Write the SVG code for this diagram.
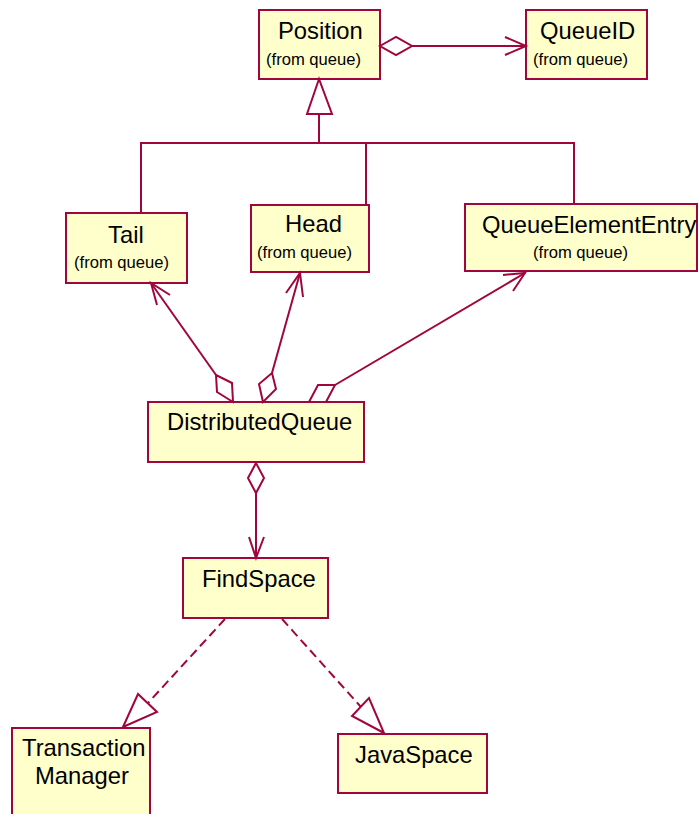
<svg xmlns="http://www.w3.org/2000/svg" width="699" height="814" viewBox="0 0 699 814">
  <style>
    .box { fill: #FFFFCC; stroke: #A0063D; stroke-width: 2; }
    .ln { fill: none; stroke: #A0063D; stroke-width: 2; }
    .dash { fill: none; stroke: #A0063D; stroke-width: 2; stroke-dasharray: 9 5; }
    .hollow { fill: #FFFFFF; stroke: #A0063D; stroke-width: 2; }
    .name { font-family: "Liberation Sans", Arial, sans-serif; font-size: 23.8px; fill: #000000; }
    .pkg { font-family: "Liberation Sans", Arial, sans-serif; font-size: 16.6px; fill: #000000; }
  </style>
  <rect width="699" height="814" fill="#FFFFFF"/>

  <!-- classes -->
  <g id="Position">
    <rect class="box" x="259" y="10" width="121" height="69"/>
    <text class="name" x="278" y="39">Position</text>
    <text class="pkg" x="266" y="65">(from queue)</text>
  </g>
  <g id="QueueID">
    <rect class="box" x="526" y="10" width="121" height="69"/>
    <text class="name" x="540" y="39">QueueID</text>
    <text class="pkg" x="533" y="65">(from queue)</text>
  </g>
  <g id="Tail">
    <rect class="box" x="66" y="213" width="121" height="70"/>
    <text class="name" x="108" y="243">Tail</text>
    <text class="pkg" x="74" y="268">(from queue)</text>
  </g>
  <g id="Head">
    <rect class="box" x="251" y="205" width="118" height="67"/>
    <text class="name" x="285" y="232">Head</text>
    <text class="pkg" x="257" y="258">(from queue)</text>
  </g>
  <g id="QueueElementEntry">
    <rect class="box" x="465" y="204" width="232" height="67"/>
    <text class="name" x="482" y="233">QueueElementEntry</text>
    <text class="pkg" x="533" y="258">(from queue)</text>
  </g>
  <g id="DistributedQueue">
    <rect class="box" x="148" y="402" width="216" height="60"/>
    <text class="name" x="167" y="430">DistributedQueue</text>
  </g>
  <g id="FindSpace">
    <rect class="box" x="183" y="558" width="145" height="60"/>
    <text class="name" x="202" y="587">FindSpace</text>
  </g>
  <g id="TransactionManager">
    <rect class="box" x="12" y="728" width="138" height="96"/>
    <text class="name" x="22" y="756">Transaction</text>
    <text class="name" x="35" y="784">Manager</text>
  </g>
  <g id="JavaSpace">
    <rect class="box" x="338" y="734" width="149" height="59"/>
    <text class="name" x="355" y="763">JavaSpace</text>
  </g>

  <!-- connectors -->
  <g id="connectors">
    <!-- Position aggregates QueueID -->
    <line class="ln" x1="412" y1="46" x2="526" y2="46"/>
    <polygon class="hollow" points="380,46 396,37 412,46 396,55"/>
    <polyline class="ln" points="505,37 526,46 505,55"/>

    <!-- generalization tree to Position -->
    <polyline class="ln" points="141,213 141,143 574,143 574,204"/>
    <line class="ln" x1="366" y1="143" x2="366" y2="205"/>
    <line class="ln" x1="319" y1="114" x2="319" y2="143"/>
    <polygon class="hollow" points="319,79 307,114 332,114"/>

    <!-- DistributedQueue to Tail -->
    <line class="ln" x1="216" y1="375" x2="151" y2="283"/>
    <polygon class="hollow" points="233,402 232,383 216,375 217,392"/>
    <polyline class="ln" points="170,295 151,283 157,305"/>

    <!-- DistributedQueue to Head -->
    <line class="ln" x1="272" y1="373" x2="300" y2="273"/>
    <polygon class="hollow" points="263,402 259,384 272,373 276,389"/>
    <polyline class="ln" points="286,293 300,273 303,297"/>

    <!-- DistributedQueue to QueueElementEntry -->
    <line class="ln" x1="335" y1="385" x2="525" y2="273"/>
    <polygon class="hollow" points="309,402 318,385 335,385 326,402"/>
    <polyline class="ln" points="503,275 525,273 513,291"/>

    <!-- DistributedQueue to FindSpace -->
    <line class="ln" x1="256" y1="493" x2="256" y2="558"/>
    <polygon class="hollow" points="256,463 248,478 256,493 264,478"/>
    <polyline class="ln" points="249,537 256,558 264,537"/>

    <!-- FindSpace realizes TransactionManager and JavaSpace -->
    <line class="dash" x1="225" y1="619" x2="148" y2="703"/>
    <polygon class="hollow" points="123,727 138,694 157,712"/>
    <line class="dash" x1="282" y1="619" x2="361" y2="707"/>
    <polygon class="hollow" points="384,733 352,716 369,698"/>
  </g>
</svg>
